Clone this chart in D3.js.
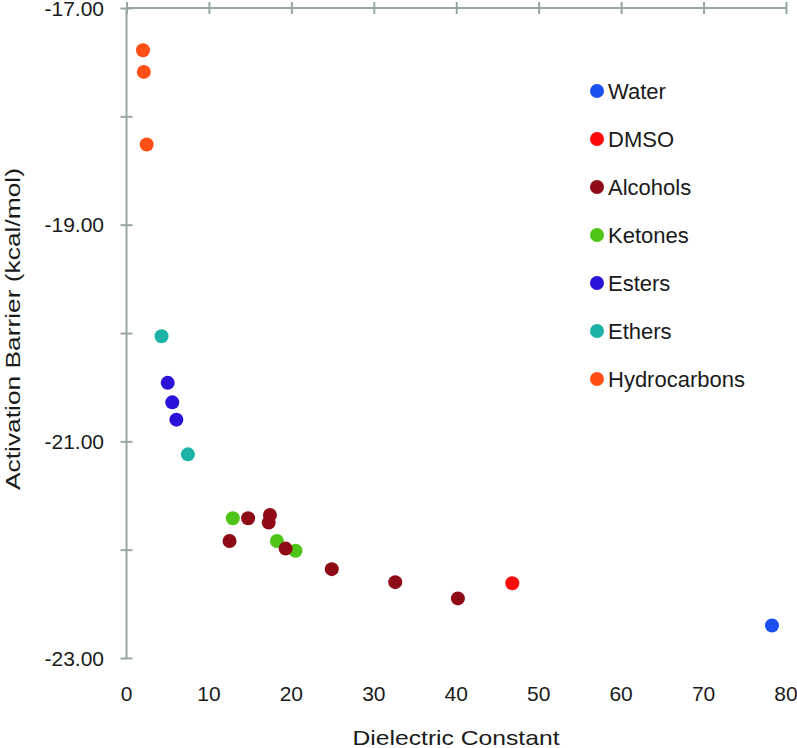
<!DOCTYPE html>
<meta charset="utf-8">
<script src="https://d3js.org/d3.v7.min.js"></script>
<style>
  body { margin: 0; background: #fff; }
  text { font-family: 'Liberation Sans', Arial, sans-serif; fill: #1a1a1a; }
</style>
<body>
<div id="chart"></div>
<script>

// solvent groups, in legend order
var groups = ["Water", "DMSO", "Alcohols", "Ketones", "Esters", "Ethers", "Hydrocarbons"];
var groupColors = ["#1a4ff0", "#ff0a0a", "#8e0a17", "#4dc416", "#2a12d9", "#1cb3a6", "#ff4f14"];

// points: dielectric constant, activation barrier, group
var waterX = [78.3], waterY = [-22.70];
var dmsoX = [46.8], dmsoY = [-22.31];
var alcoholX = [14.75, 17.4, 17.25, 12.5, 19.3, 24.9, 32.6, 40.2];
var alcoholY = [-21.71, -21.68, -21.75, -21.92, -21.99, -22.18, -22.30, -22.45];
var ketoneX = [12.9, 18.25, 20.5];
var ketoneY = [-21.71, -21.92, -22.01];
var esterX = [5.0, 5.55, 6.05];
var esterY = [-20.46, -20.64, -20.80];
var etherX = [4.25, 7.45];
var etherY = [-20.03, -21.12];
var hydrocarbonX = [2.0, 2.1, 2.45];
var hydrocarbonY = [-17.39, -17.59, -18.26];

var xTicks = [0, 10, 20, 30, 40, 50, 60, 70, 80];
var yTicks = [-17, -18, -19, -20, -21, -22, -23];
var yLabels = [-17, -19, -21, -23];

var seriesX = [waterX, dmsoX, alcoholX, ketoneX, esterX, etherX, hydrocarbonX];
var seriesY = [waterY, dmsoY, alcoholY, ketoneY, esterY, etherY, hydrocarbonY];

var data = [];
groups.forEach(function(g, i) {
  seriesX[i].forEach(function(v, j) {
    data.push({group: g, x: v, y: seriesY[i][j]});
  });
});
// draw order so water/dmso sit on top like the original
data.reverse();

var width = 797, height = 748;
var margin = {top: 8, right: 11, bottom: 90, left: 126.5};

var svg = d3.select("#chart").append("svg")
  .attr("width", width)
  .attr("height", height);

var x = d3.scaleLinear().domain([0, 80]).range([margin.left, width - margin.right]);
var y = d3.scaleLinear().domain([-23, -17]).range([height - margin.bottom, margin.top]);
var color = d3.scaleOrdinal().domain(groups).range(groupColors);

var axisColor = "#97a6a5";

// x axis sits at the top (y = -17), labels down at the bottom
var xAxis = svg.append("g")
  .attr("transform", "translate(0," + y(-17) + ")")
  .call(d3.axisTop(x).tickValues(xTicks).tickSize(6).tickFormat(""));
xAxis.selectAll(".tick line").attr("y2", 6).attr("y1", -6);
xAxis.selectAll("line, path").attr("stroke", axisColor).attr("stroke-width", 2);
xAxis.select(".domain").attr("d", "M" + x(0) + ",0H" + x(80));

svg.append("g").selectAll("text")
  .data(xTicks)
  .enter().append("text")
    .attr("x", function(d) { return x(d); })
    .attr("y", 701)
    .attr("text-anchor", "middle")
    .style("font-size", "21px")
    .text(function(d) { return d; });

// y axis
var yAxis = svg.append("g")
  .attr("transform", "translate(" + x(0) + ",0)")
  .call(d3.axisLeft(y).tickValues(yTicks).tickSize(6).tickFormat(""));
yAxis.selectAll(".tick line").attr("x2", -6).attr("x1", 6);
yAxis.selectAll("line, path").attr("stroke", axisColor).attr("stroke-width", 2);
yAxis.select(".domain").attr("d", "M0," + y(-17) + "V" + y(-23));

svg.append("g").selectAll("text")
  .data(yLabels)
  .enter().append("text")
    .attr("x", 104)
    .attr("y", function(d) { return y(d) + 7.5; })
    .attr("text-anchor", "end")
    .style("font-size", "21px")
    .text(function(d) { return d.toFixed(2); });

// axis titles (the original is a bit stretched along the text)
svg.append("text")
  .attr("x", 456)
  .attr("y", 745)
  .attr("text-anchor", "middle")
  .attr("textLength", 207)
  .attr("lengthAdjust", "spacingAndGlyphs")
  .style("font-size", "21px")
  .text("Dielectric Constant");

svg.append("text")
  .attr("transform", "translate(20,329) rotate(-90)")
  .attr("text-anchor", "middle")
  .attr("textLength", 322)
  .attr("lengthAdjust", "spacingAndGlyphs")
  .style("font-size", "21px")
  .text("Activation Barrier (kcal/mol)");

// points
svg.append("g").selectAll("circle")
  .data(data)
  .enter().append("circle")
    .attr("cx", function(d) { return x(d.x); })
    .attr("cy", function(d) { return y(d.y); })
    .attr("r", 7)
    .attr("fill", function(d) { return color(d.group); });

// legend
var legend = svg.append("g").selectAll("g")
  .data(groups)
  .enter().append("g")
    .attr("transform", function(d, i) { return "translate(597," + (91 + i * 48) + ")"; });
legend.append("circle").attr("r", 7).attr("fill", function(d) { return color(d); });
legend.append("text")
  .attr("x", 11)
  .attr("y", 7.5)
  .style("font-size", "22px")
  .text(function(d) { return d; });

</script>
</body>
